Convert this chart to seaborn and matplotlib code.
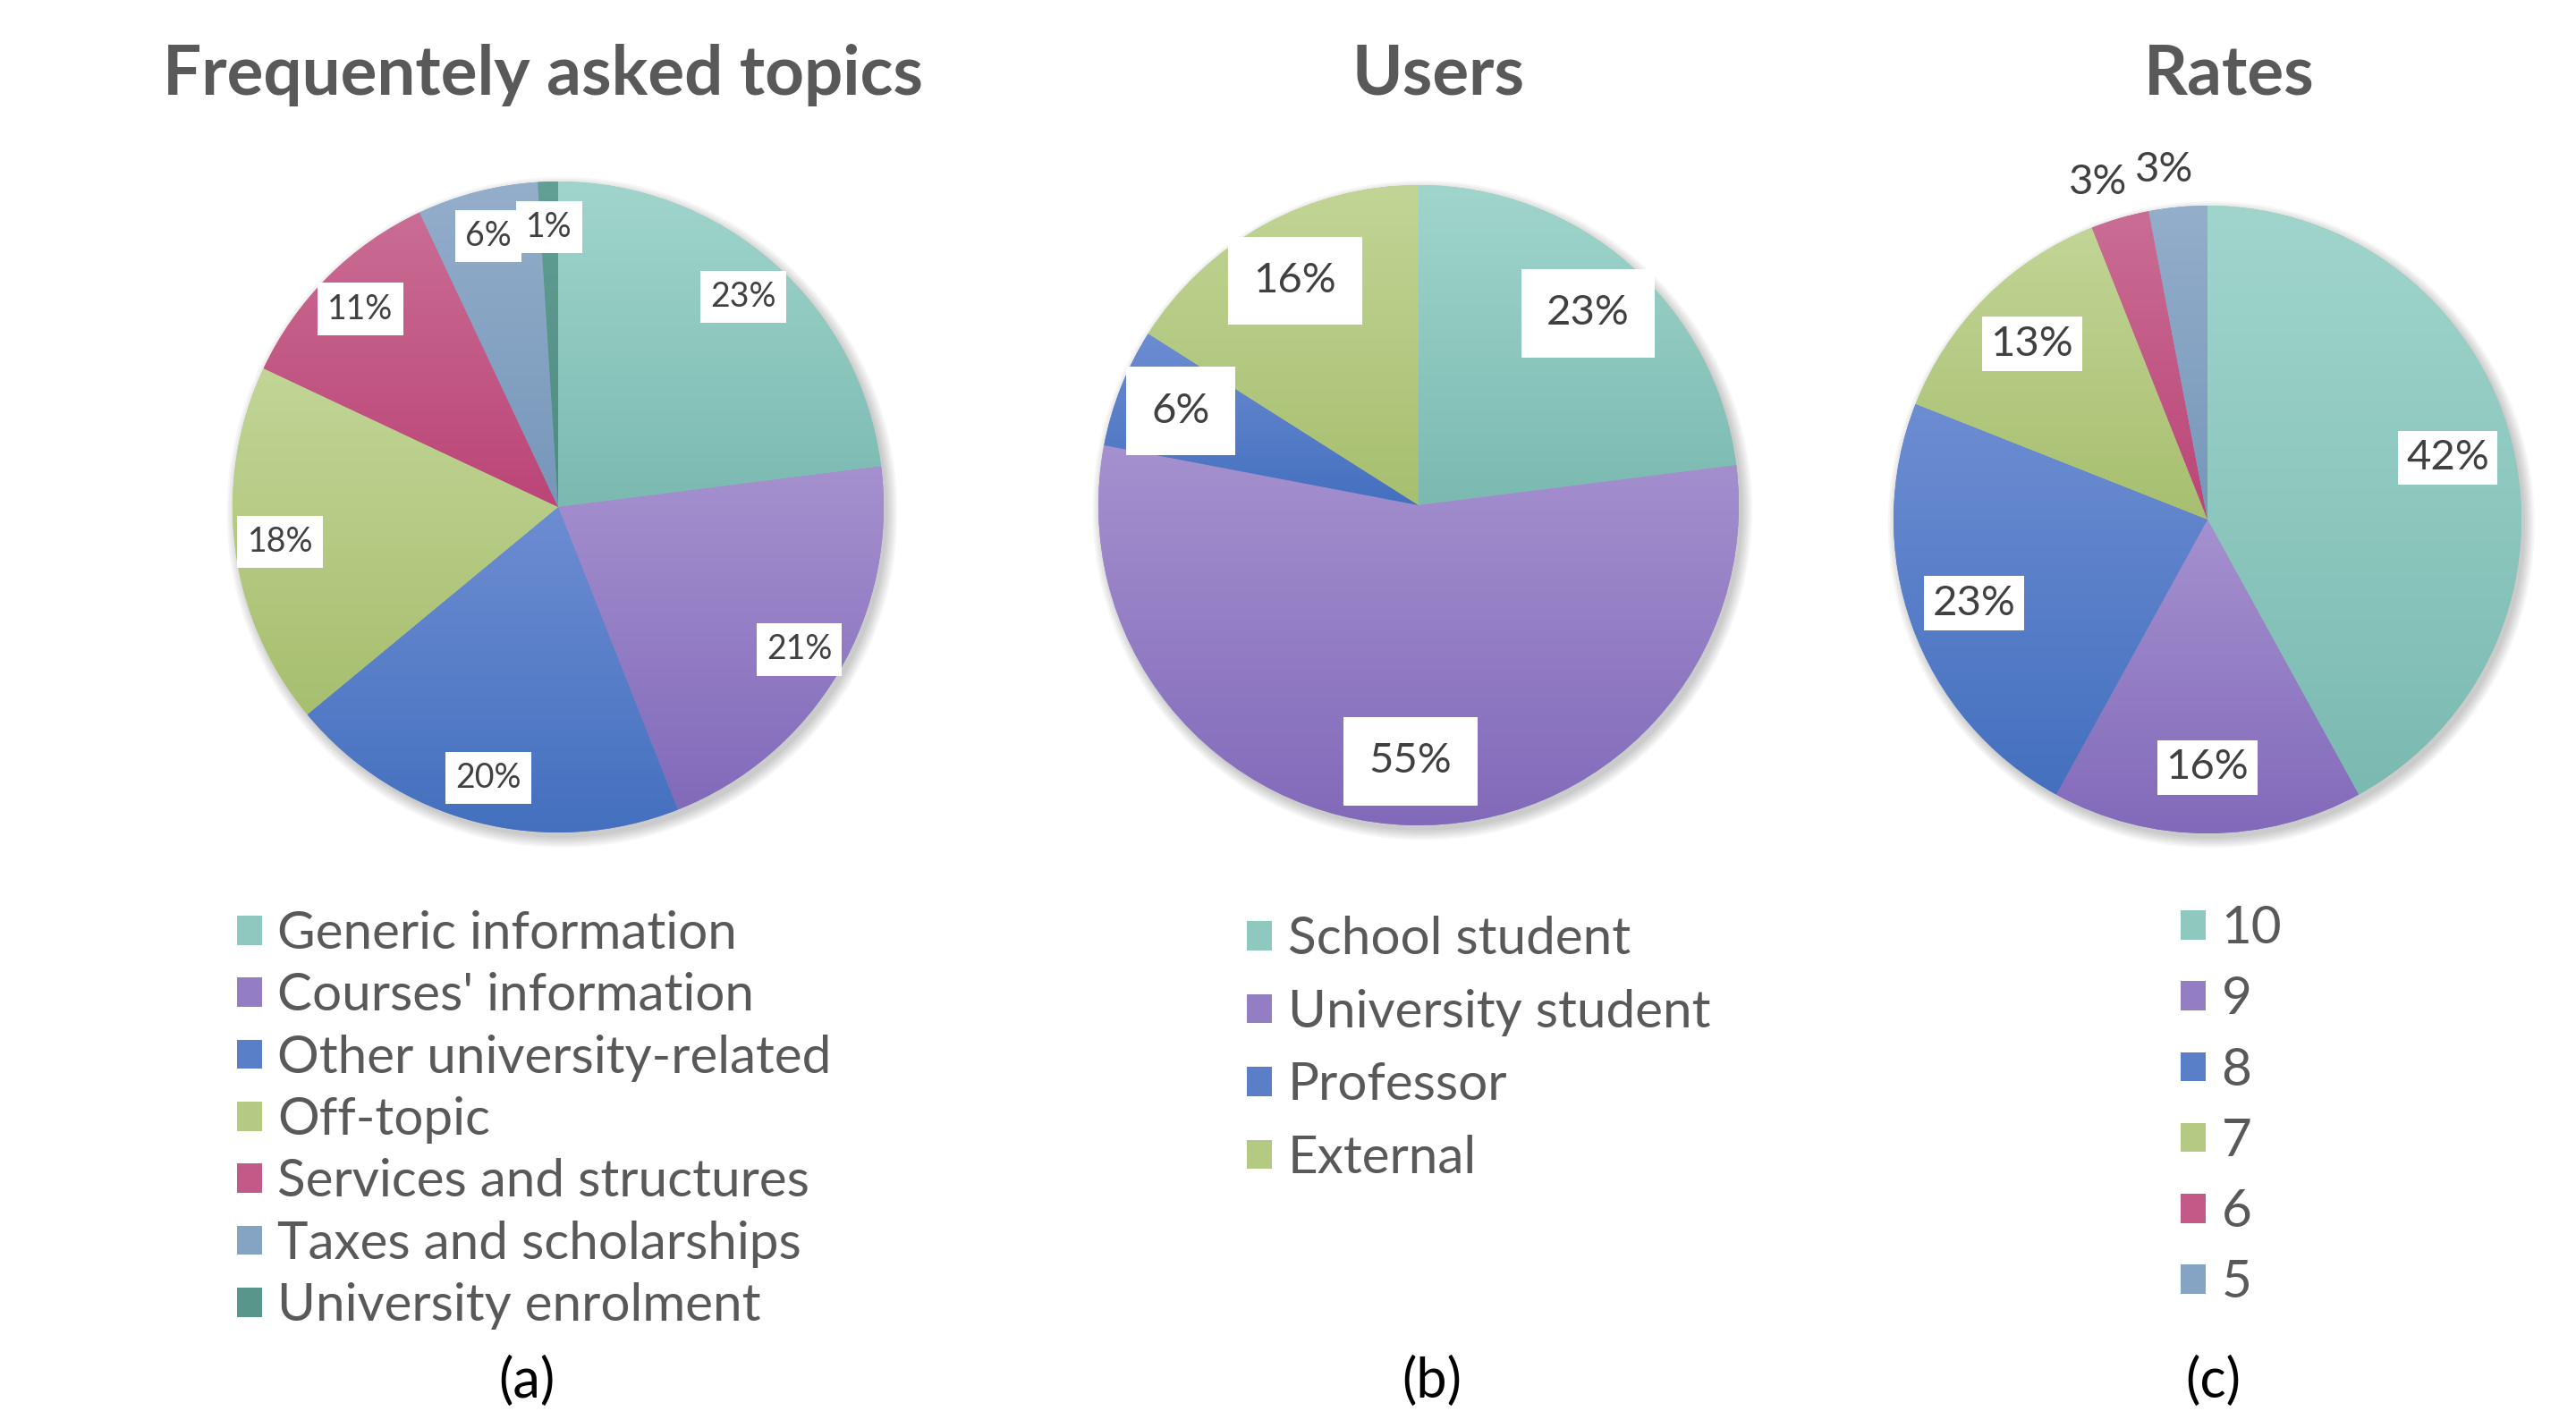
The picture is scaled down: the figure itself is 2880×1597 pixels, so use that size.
import numpy as np
import matplotlib
matplotlib.use("Agg")
import matplotlib.pyplot as plt
import seaborn as sns
from matplotlib.colors import LinearSegmentedColormap, to_rgb
from matplotlib.patches import Circle

sns.set_theme(style="white")
plt.rcParams['font.family'] = ['Lato', 'DejaVu Sans']

# --- data ---
topics = ["Generic information", "Courses' information", "Other university-related",
          "Off-topic", "Services and structures", "Taxes and scholarships",
          "University enrolment"]
topic_share = [23, 21, 20, 18, 11, 6, 1]

users = ["School student", "University student", "Professor", "External"]
user_share = [23, 55, 6, 16]

rates = ["10", "9", "8", "7", "6", "5"]
rate_share = [42, 16, 23, 13, 3, 3]

# slice colours, light at top / dark at bottom
light = ["#a0d5cc", "#a591cf", "#6d8dd2", "#c2d596", "#ca6d94", "#94aecb", "#62a095"]
dark = ["#7bbab1", "#826aba", "#4470bf", "#a7bf6f", "#bb4577", "#7697ba", "#4d8a7e"]

W, H = 2880, 1597
fig = plt.figure(figsize=(W / 100, H / 100), dpi=100)
LIM = 1.2


def mix(a, b):
    return tuple((np.array(to_rgb(a)) + np.array(to_rgb(b))) / 2)


def draw_pie(cx, cy, r, values, label_fs, pad, dist):
    half = r * LIM
    ax = fig.add_axes([(cx - half) / W, (H - cy - half) / H, 2 * half / W, 2 * half / H])
    n = len(values)
    cols = [mix(light[i], dark[i]) for i in range(n)]
    wedges, _, pcts = ax.pie(values, startangle=90, counterclock=False, radius=1,
                             colors=cols, autopct='%.0f%%', pctdistance=dist,
                             wedgeprops=dict(linewidth=0),
                             textprops=dict(fontsize=label_fs, color="#404040"))
    # soft shadow
    for k in range(6):
        ax.add_patch(Circle((0.012, -0.016), 1.0 + 0.006 * k, color="#000000",
                            alpha=0.035, lw=0, zorder=0.5, clip_on=False))
    grad = np.linspace(0, 1, 256).reshape(-1, 1)
    for i, w in enumerate(wedges):
        bb = w.get_path().get_extents()
        cmap = LinearSegmentedColormap.from_list(f"g{i}", [light[i], dark[i]])
        im = ax.imshow(grad, cmap=cmap, extent=[bb.x0, bb.x1, bb.y0, bb.y1],
                       origin='upper', aspect='auto', interpolation='bilinear',
                       zorder=1.2)
        im.set_clip_path(w)
    for v, t in zip(values, pcts):
        if v < 5 and dist < 0.85:
            # tiny slices get their label outside, without a box
            x, y = t.get_position()
            t.set_position((x / dist * 1.14 - 0.03, y / dist * 1.14 - 0.02))
        else:
            t.set_bbox(dict(boxstyle=f"square,pad={pad}", fc="white", ec="none"))
        t.set_zorder(5)
    ax.set_xlim(-LIM, LIM)
    ax.set_ylim(-LIM, LIM)
    ax.set_aspect('equal')
    ax.axis('off')
    return wedges


w_a = draw_pie(624, 567, 364, topic_share, 27, 0.3, 0.86)
w_b = draw_pie(1586, 565, 358, user_share, 34, 0.6, 0.8)
w_c = draw_pie(2468, 581, 351, rate_share, 34, 0.2, 0.79)

title_kw = dict(fontsize=55, fontweight='bold', color="#595959", ha='center', va='center')
fig.text(607 / W, 1 - 84 / H, "Frequentely asked topics", **title_kw)
fig.text(1608 / W, 1 - 84 / H, "Users", **title_kw)
fig.text(2492 / W, 1 - 84 / H, "Rates", **title_kw)

leg_kw = dict(loc='upper left', frameon=False, fontsize=42, handlelength=0.48,
              handleheight=0.48, handletextpad=0.3, borderaxespad=0, borderpad=0,
              labelcolor="#595959", bbox_transform=fig.transFigure)
fig.legend(w_a, topics, bbox_to_anchor=(265 / W, 1 - 1018 / H), labelspacing=0.28, **leg_kw)
fig.legend(w_b, users, bbox_to_anchor=(1394 / W, 1 - 1024 / H), labelspacing=0.49, **leg_kw)
fig.legend(w_c, rates, bbox_to_anchor=(2438 / W, 1 - 1012 / H), labelspacing=0.45, **leg_kw)

cap_kw = dict(fontsize=44, color="black", ha='center', va='center')
fig.text(589 / W, 1 - 1545 / H, "(a)", **cap_kw)
fig.text(1601 / W, 1 - 1545 / H, "(b)", **cap_kw)
fig.text(2474 / W, 1 - 1545 / H, "(c)", **cap_kw)

fig.savefig("out.png", dpi=100, facecolor="white")
